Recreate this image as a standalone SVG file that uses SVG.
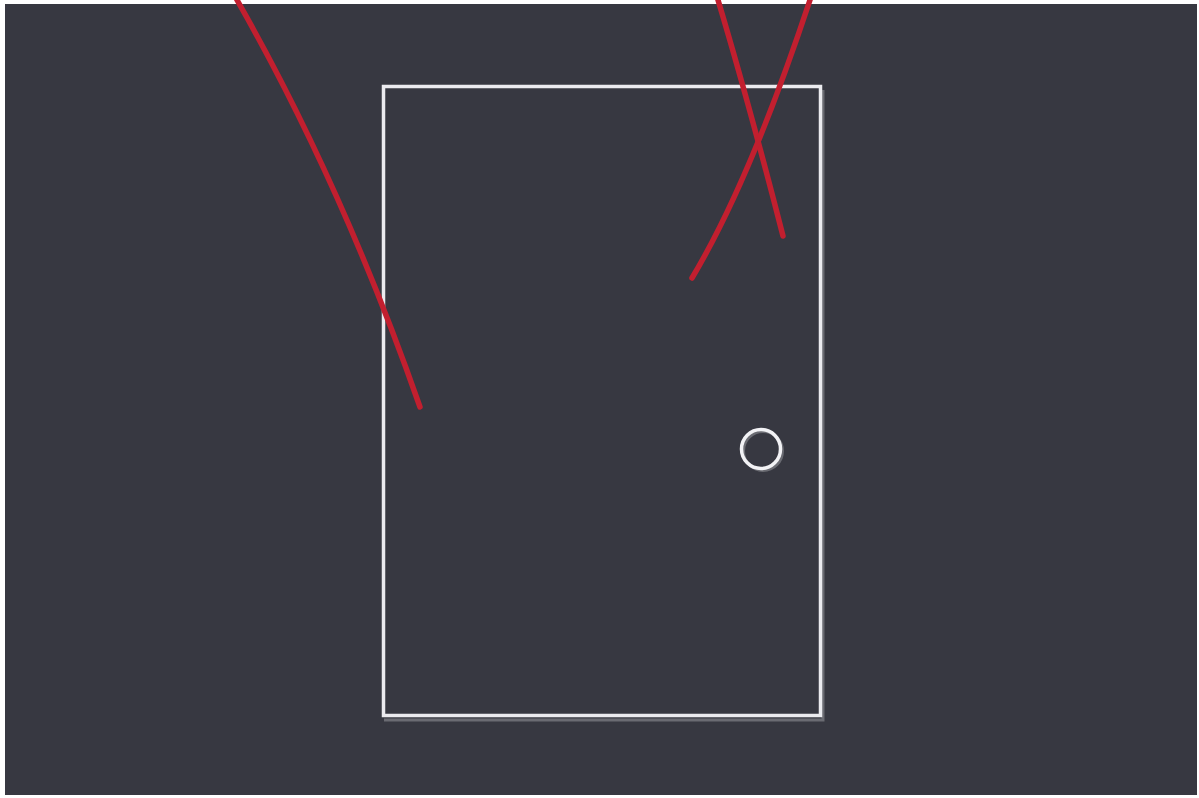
<svg xmlns="http://www.w3.org/2000/svg" width="1199" height="798" viewBox="0 0 1199 798">
<style>
.frame{fill:none;stroke:#ebebef;stroke-width:3.5}
.shadow{fill:none;stroke:#6a6b72;stroke-width:3}
.red{fill:none;stroke:#c21f2f;stroke-width:5.5;stroke-linecap:round}
</style>
<rect x="0" y="0" width="1199" height="798" fill="#ffffff"/>
<rect x="5" y="4" width="1192" height="791" fill="#373841"/>
<g id="door">
<path class="shadow" d="M384 720 H823 V90"/>
<rect class="frame" x="383.5" y="86.5" width="437" height="629"/>
</g>
<g id="knob">
<circle cx="763" cy="451" r="19.5" fill="none" stroke="#6a6b72" stroke-width="3"/>
<circle cx="761" cy="449" r="19.5" fill="none" stroke="#f2f2f5" stroke-width="3.5"/>
</g>
<g id="strokes">
<path class="red" d="M237 0 Q342 184 420 407"/>
<path class="red" d="M718 0 Q748 100 783 236"/>
<path class="red" d="M810 0 Q750 181 692 278"/>
</g>
</svg>
